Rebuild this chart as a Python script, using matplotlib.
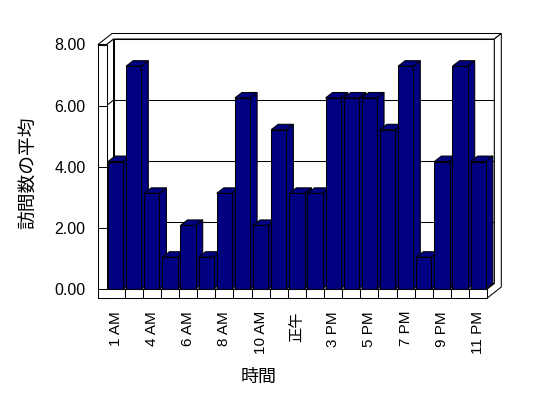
import matplotlib
matplotlib.use("Agg")
import matplotlib.pyplot as plt
from matplotlib.patches import Polygon, Rectangle

plt.rcParams['font.family'] = ['Liberation Sans', 'Noto Sans CJK JP', 'DejaVu Sans']

categories = ["1 AM", "2 AM", "4 AM", "5 AM", "6 AM", "7 AM", "8 AM", "9 AM",
              "10 AM", "11 AM", "正午", "1 PM", "3 PM", "4 PM", "5 PM", "6 PM",
              "7 PM", "8 PM", "9 PM", "10 PM", "11 PM"]
values = [4.17, 7.29, 3.13, 1.04, 2.08, 1.04, 3.13, 6.25, 2.08, 5.21, 3.13,
          3.13, 6.25, 6.25, 6.25, 5.21, 7.29, 1.04, 4.17, 7.29, 4.17]
y_ticks = [0, 2, 4, 6, 8]
y_tick_labels = ["0.00", "2.00", "4.00", "6.00", "8.00"]
x_label = "時間"
y_label = "訪問数の平均"

W, H, DPI = 548, 398, 100
fig = plt.figure(figsize=(W / DPI, H / DPI), dpi=DPI)
fig.patch.set_facecolor("white")

# front plane of plot area in pixels
px_left, px_right = 106.5, 487.3
px_bottom, px_top = 289.0, 44.5
ax = fig.add_axes([px_left / W, 1 - px_bottom / H,
                   (px_right - px_left) / W, (px_bottom - px_top) / H])
n = len(values)
ax.set_xlim(-0.5, n - 0.5)
ax.set_ylim(0, 8)
ax.set_facecolor("none")
for s in ax.spines.values():
    s.set_visible(False)

xu = (px_right - px_left) / n          # px per category
yu = (px_bottom - px_top) / 8          # px per value unit
dx = 7.0 / xu                          # depth offset in data units
dy = 5.5 / yu
wall = 8.5 / xu                        # left wall thickness
floor_t = 9.0 / yu                     # floor thickness
xl, xr = -0.5, n - 0.5
ymax = 8

lw = 0.75
edge = "black"
kw = dict(facecolor="white", edgecolor=edge, linewidth=lw, clip_on=False,
          joinstyle="miter")

# back wall inner face
ax.add_patch(Rectangle((xl + dx, dy), xr - xl, ymax, zorder=1, **kw))
# left wall inner face
ax.add_patch(Polygon([(xl, 0), (xl, ymax), (xl + dx, ymax + dy), (xl + dx, dy)],
                     zorder=1, **kw))
# floor top face
ax.add_patch(Polygon([(xl, 0), (xr, 0), (xr + dx, dy), (xl + dx, dy)],
                     zorder=1, **kw))
# gridlines on back wall and left wall
for t in y_ticks[1:-1]:
    ax.plot([xl + dx, xr + dx], [t + dy, t + dy], color=edge, lw=lw,
            zorder=1.5, clip_on=False)
    ax.plot([xl, xl + dx], [t, t + dy], color=edge, lw=lw, zorder=1.5,
            clip_on=False)

# wall tops
ax.add_patch(Polygon([(xl - wall, ymax), (xl - wall + 2 * dx, ymax + 2 * dy),
                      (xr + 2 * dx, ymax + 2 * dy), (xr + dx, ymax + dy),
                      (xl + dx, ymax + dy), (xl, ymax)], zorder=2, **kw))
# right side of back wall & floor
ax.add_patch(Polygon([(xr, -floor_t), (xr + 2 * dx, -floor_t + 2 * dy),
                      (xr + 2 * dx, ymax + 2 * dy), (xr + dx, ymax + dy),
                      (xr + dx, dy), (xr, 0)], zorder=2, **kw))
# left wall front face
ax.add_patch(Rectangle((xl - wall, -floor_t), wall, ymax + floor_t, zorder=2, **kw))
for t in y_ticks:
    ax.plot([xl - wall, xl], [t, t], color=edge, lw=lw, zorder=2.5, clip_on=False)
# floor front face
ax.add_patch(Rectangle((xl - wall, -floor_t), xr - xl + wall, floor_t, zorder=2, **kw))
for i in range(n - 1):
    ax.plot([i + 0.5, i + 0.5], [-floor_t, 0], color=edge, lw=lw, zorder=2.5,
            clip_on=False)

# bars
bw = 0.84
navy = "#000080"
for i, v in enumerate(values):
    z = 3 + i * 0.01
    L, R = i - bw / 2, i + bw / 2
    ax.add_patch(Polygon([(R, 0), (R, v), (R + dx, v + dy), (R + dx, dy)],
                         facecolor=navy, edgecolor=edge, lw=lw, zorder=z,
                         clip_on=False))
    ax.add_patch(Polygon([(L, v), (R, v), (R + dx, v + dy), (L + dx, v + dy)],
                         facecolor=navy, edgecolor=edge, lw=lw, zorder=z,
                         clip_on=False))
    ax.bar([i], [v], width=bw, color=navy, edgecolor=edge, linewidth=lw,
           zorder=z + 0.001, clip_on=False)

# ticks
ax.set_yticks(y_ticks)
ax.set_yticklabels(y_tick_labels, fontsize=11.5)
ax.tick_params(axis="y", length=0, pad=21 * 72 / DPI)
ax.set_xticks(list(range(0, n, 2)))
ax.set_xticklabels(categories[::2], rotation=90, fontsize=11, va="top",
                   ha="center")
ax.tick_params(axis="x", length=0, pad=22 * 72 / DPI)

fig.text(259 / W, 1 - 377 / H, x_label, fontsize=13, ha="center", va="center")
fig.text(29 / W, 1 - 173 / H, y_label, fontsize=13.5, ha="center", va="center",
         rotation=90)

fig.savefig("out.png", dpi=DPI)
